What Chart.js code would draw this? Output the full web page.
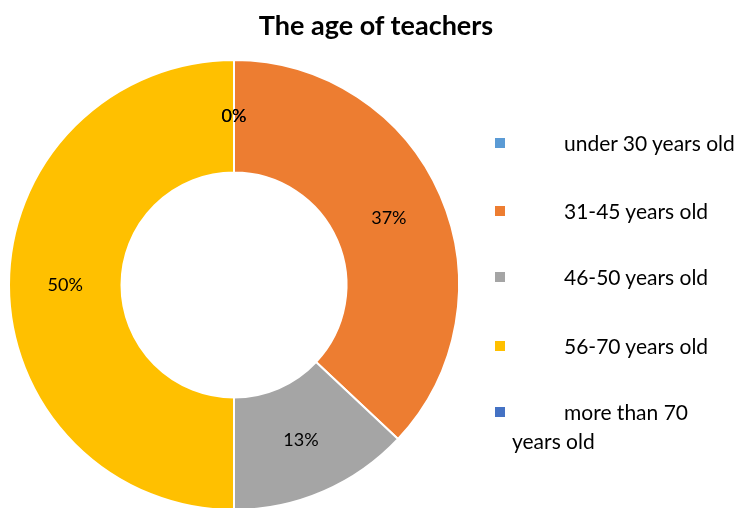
<!DOCTYPE html>
<html><head><meta charset="utf-8">
<script src="https://cdn.jsdelivr.net/npm/chart.js@4"></script>
<style>
html,body{margin:0;padding:0;background:#fff;width:736px;height:508px;overflow:hidden;font-family:Lato,"Open Sans",sans-serif;}
#wrap{position:absolute;left:0;top:0;width:736px;height:514px;}
#title{position:absolute;left:0;width:752px;top:8px;text-align:center;font-weight:bold;font-size:27px;color:#000;}
.lg{position:absolute;font-size:21px;color:#000;line-height:29px;white-space:nowrap;}
.bx{position:absolute;width:10px;height:10px;}
</style></head><body>
<div id="wrap"><canvas id="c"></canvas></div>
<div id="title">The age of teachers</div>
<div id="legend"></div>
<script>
const categories = ["under 30 years old","31-45 years old","46-50 years old","56-70 years old","more than 70 years old"];
const percentages = [0, 37, 13, 50, 0];
const colors = ["#5B9BD5","#ED7D31","#A5A5A5","#FFC000","#4472C4"];

const labelPlugin = {
  id:'pctLabels',
  afterDatasetsDraw(chart){
    const ctx = chart.ctx;
    const meta = chart.getDatasetMeta(0);
    ctx.save();
    ctx.font = '18px Lato, "Open Sans", sans-serif';
    ctx.fillStyle = '#000';
    ctx.textAlign = 'center';
    ctx.textBaseline = 'middle';
    meta.data.forEach((arc,i)=>{
      const p = arc.tooltipPosition();
      ctx.fillText(percentages[i] + '%', p.x, p.y);
    });
    ctx.restore();
  }
};

new Chart(document.getElementById('c'), {
  type:'doughnut',
  data:{labels:categories, datasets:[{data:percentages, backgroundColor:colors, borderColor:'#fff', borderWidth:2}]},
  options:{
    responsive:true, maintainAspectRatio:false, animation:false,
    cutout:'50%',
    layout:{padding:{left:8,right:276,top:59,bottom:3}},
    plugins:{legend:{display:false}, title:{display:false}, tooltip:{enabled:false}}
  },
  plugins:[labelPlugin]
});

// legend (HTML text)
const rowsY = [143, 211, 277, 346, 412];
const lg = document.getElementById('legend');
categories.forEach((name,i)=>{
  const b = document.createElement('div');
  b.className='bx'; b.style.left='495px'; b.style.top=(rowsY[i]-5)+'px'; b.style.background=colors[i];
  lg.appendChild(b);
  const t = document.createElement('div');
  t.className='lg';
  t.style.top=(rowsY[i]-15)+'px';
  if(i===4){
    t.style.left='512px';
    t.innerHTML='<span style="padding-left:52px">more than 70</span><br>years old';
  } else {
    t.style.left='564px';
    t.textContent=name;
  }
  lg.appendChild(t);
});
</script>
</body></html>
